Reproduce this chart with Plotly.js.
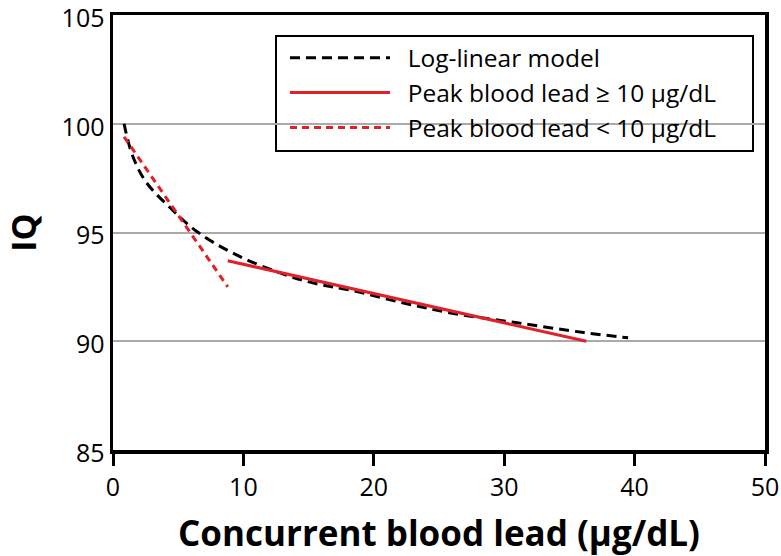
<!DOCTYPE html>
<html>
<head>
<meta charset="utf-8">
<script src="https://cdn.plot.ly/plotly-3.0.1.min.js"></script>
<style>html,body{margin:0;padding:0;background:#fff;}#chart{width:781px;height:556px;}</style>
</head>
<body>
<div id="chart"></div>
<script>
// Log-linear model curve
const loglinX = [0.85, 1.46, 2.5, 4.5, 6.4, 9.2, 12.8, 15.6, 18.2, 22, 25.9, 31, 36.1, 39.5];
const loglinY = [100, 98.6, 97.35, 96.07, 95.06, 94.05, 93.14, 92.64, 92.35, 91.8, 91.3, 90.85, 90.4, 90.16];
// Peak blood lead >= 10 µg/dL
const highX = [8.8, 36.3];
const highY = [93.7, 90.0];
// Peak blood lead < 10 µg/dL
const lowX = [0.85, 8.8];
const lowY = [99.4, 92.5];

const names = ["Log-linear model", "Peak blood lead \u2265 10 \u00b5g/dL", "Peak blood lead < 10 \u00b5g/dL"];
const xTicks = [0, 10, 20, 30, 40, 50];
const yTicks = [85, 90, 95, 100, 105];

const FONT = "Open Sans, Noto Sans, sans-serif";
const RED = "#e2202a";
const PAD = "\u00a0\u00a0";

const traces = [
  {x: loglinX, y: loglinY, name: PAD + names[0], mode: "lines",
   line: {color: "#000", width: 3, dash: "10px,6px", shape: "spline"}},
  {x: highX, y: highY, name: PAD + names[1], mode: "lines",
   line: {color: RED, width: 3}},
  {x: lowX, y: lowY, name: PAD + names[2], mode: "lines",
   line: {color: RED, width: 3, dash: "7px,5px"}}
];

const layout = {
  width: 781, height: 556,
  margin: {l: 113, r: 16, t: 15, b: 106},
  paper_bgcolor: "#fff", plot_bgcolor: "#fff",
  font: {family: FONT, color: "#000"},
  showlegend: true,
  legend: {
    x: 0.2638, y: 0.9533, xanchor: "left", yanchor: "top",
    bgcolor: "rgba(0,0,0,0)", borderwidth: 0,
    font: {family: FONT, size: 24.5, color: "#000"},
    itemwidth: 100, tracegroupgap: 0
  },
  shapes: [{
    type: "rect", xref: "paper", yref: "paper", layer: "between",
    x0: 0.25, x1: 0.9816, y0: 0.6874, y1: 0.9517,
    fillcolor: "#fff", line: {color: "#000", width: 2}
  }],
  xaxis: {
    range: [0, 50], tickvals: xTicks, ticktext: xTicks.map(String),
    showgrid: false, zeroline: false,
    showline: true, linecolor: "#000", linewidth: 3.5, mirror: true,
    ticks: "outside", ticklen: 12, tickwidth: 3, tickcolor: "#000",
    tickfont: {family: FONT, size: 25, color: "#000"},
    ticklabeloverflow: "allow",
    title: {text: "<b>Concurrent blood lead (\u00b5g/dL)</b>", font: {family: FONT, size: 35, color: "#000"}, standoff: 22}
  },
  yaxis: {
    range: [85, 105], tickvals: yTicks, ticktext: yTicks.map(String),
    showgrid: true, gridcolor: "#aaaaaa", gridwidth: 2,
    zeroline: false,
    showline: true, linecolor: "#000", linewidth: 3.5, mirror: true,
    ticks: "", ticklabelstandoff: 0, ticklabelshift: 3,
    ticklabeloverflow: "allow",
    tickfont: {family: FONT, size: 25, color: "#000"},
    title: {text: "<b>IQ</b>", font: {family: FONT, size: 34, color: "#000"}, standoff: 29}
  }
};

Plotly.newPlot("chart", traces, layout, {displayModeBar: false, staticPlot: true});
</script>
</body>
</html>
